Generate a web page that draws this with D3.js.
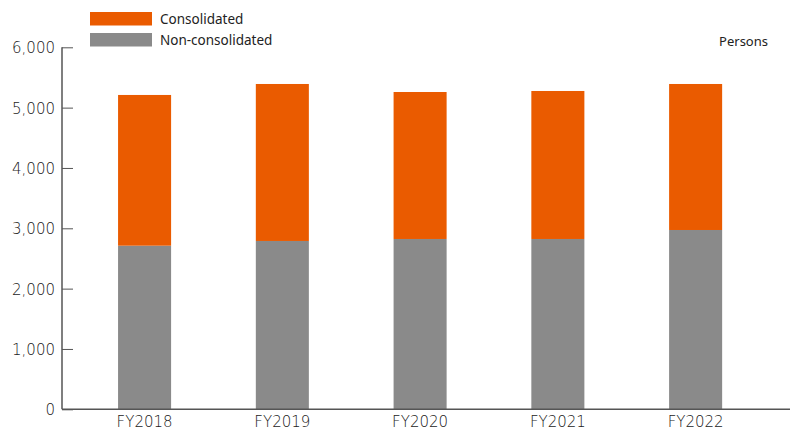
<!DOCTYPE html>
<html>
<head>
<meta charset="utf-8">
<script src="https://cdn.jsdelivr.net/npm/d3@7"></script>
<style>
  body { margin: 0; background: #fff; }
  svg { display: block; }
  .tick text { font-family: "DejaVu Sans", sans-serif; fill: #1a1a1a; }
</style>
</head>
<body>
<svg id="chart" width="790" height="432"></svg>
<script>
// data
const years = ['FY2018', 'FY2019', 'FY2020', 'FY2021', 'FY2022'];
const nonConsolidated = [2712, 2790, 2823, 2823, 2972];
const consolidated = [2498, 2602, 2436, 2453, 2420];
const yTicks = [0, 1000, 2000, 3000, 4000, 5000, 6000];
const seriesNames = ['Consolidated', 'Non-consolidated'];
const seriesColors = ['#ea5b00', '#8a8a8a'];

const svg = d3.select('#chart');
const axisColor = '#555';

const x = d3.scaleBand().domain(years).range([75.7, 764.5])
    .paddingInner(0.615).paddingOuter(0.3075);
const y = d3.scaleLinear().domain([0, 6000]).range([409.3, 47.3]);

// stacked bars: gray at the bottom, orange on top
const rows = years.map((yr, i) => ({ year: yr, non: nonConsolidated[i], con: consolidated[i] }));
const stack = d3.stack().keys(['non', 'con'])(rows);
const colorOf = { non: seriesColors[1], con: seriesColors[0] };

svg.append('g').selectAll('g').data(stack).join('g')
    .attr('fill', d => colorOf[d.key])
    .selectAll('rect').data(d => d).join('rect')
    .attr('x', d => x(d.data.year))
    .attr('width', x.bandwidth())
    .attr('y', d => y(d[1]))
    .attr('height', d => y(d[0]) - y(d[1]));

// y axis, ticks pointing into the plot
const yAxis = svg.append('g').attr('transform', 'translate(62,0)')
    .call(d3.axisRight(y).tickValues(yTicks).tickFormat(d3.format(',')).tickSize(11));
yAxis.select('.domain').remove();
yAxis.selectAll('.tick line').attr('stroke', axisColor);
yAxis.selectAll('.tick text')
    .attr('x', -7).attr('text-anchor', 'end').attr('dy', '0.36em')
    .style('font-size', '15px').style('font-weight', 300);
svg.append('line')
    .attr('x1', 62).attr('x2', 62).attr('y1', y(6000)).attr('y2', y(0))
    .attr('stroke', axisColor).attr('stroke-width', 1.5);

// x axis baseline and labels
const xAxis = svg.append('g').attr('transform', `translate(0,${y(0)})`)
    .call(d3.axisBottom(x).tickSize(0).tickPadding(0));
xAxis.select('.domain').remove();
xAxis.selectAll('.tick text').style('font-size', '15px').style('font-weight', 300)
    .attr('dy', null).attr('y', 18);
svg.append('line')
    .attr('x1', 62).attr('x2', 790).attr('y1', y(0)).attr('y2', y(0))
    .attr('stroke', axisColor).attr('stroke-width', 1.5);

// legend
const legend = svg.append('g').attr('transform', 'translate(90,12)');
seriesNames.forEach((name, i) => {
    const g = legend.append('g').attr('transform', `translate(0,${i * 21})`);
    g.append('rect').attr('width', 62).attr('height', 13.5).attr('fill', seriesColors[i]);
    g.append('text').attr('x', 70).attr('y', 7).attr('dy', '0.35em')
        .style('font-family', '"Noto Sans", sans-serif').style('font-size', '13.5px')
        .attr('fill', '#222').text(name);
});

svg.append('text').attr('x', 768).attr('y', 46).attr('text-anchor', 'end')
    .style('font-family', '"Noto Sans", sans-serif').style('font-size', '13px')
    .attr('fill', '#222').text('Persons');
</script>
</body>
</html>
